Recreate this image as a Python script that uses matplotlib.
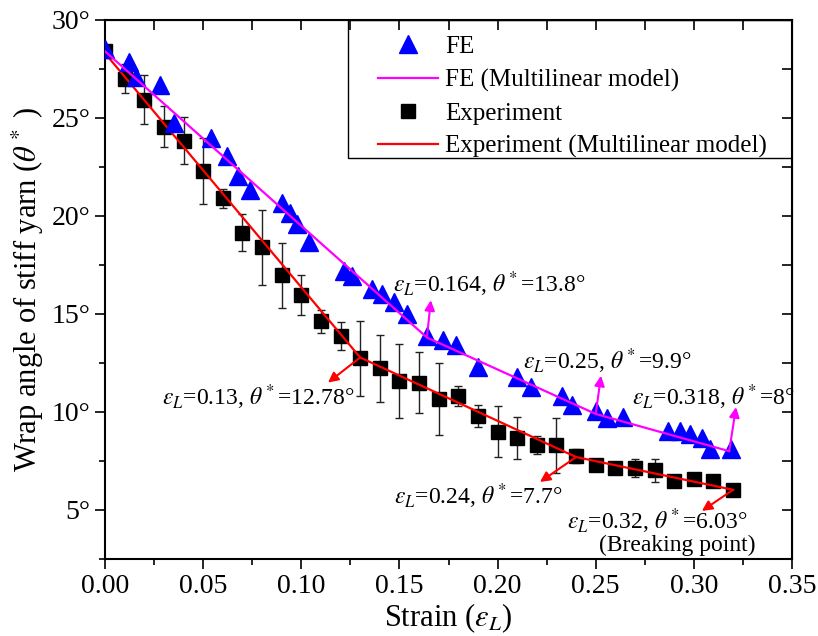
import numpy as np
import matplotlib.pyplot as plt
from matplotlib.patches import Rectangle
from matplotlib.ticker import MultipleLocator, FuncFormatter

plt.rcParams['font.family'] = 'Liberation Serif'
plt.rcParams['mathtext.fontset'] = 'stix'

# experiment (mean and error bar half-length)
exp_strain = [0.00, 0.01, 0.02, 0.03, 0.04, 0.05, 0.06, 0.07, 0.08, 0.09, 0.10,
              0.11, 0.12, 0.13, 0.14, 0.15, 0.16, 0.17, 0.18, 0.19, 0.20, 0.21,
              0.22, 0.23, 0.24, 0.25, 0.26, 0.27, 0.28, 0.29, 0.30, 0.31, 0.32]
exp_angle = [28.4, 27.0, 25.93, 24.55, 23.84, 22.3, 20.9, 19.15, 18.4, 16.97, 15.95,
             14.62, 13.86, 12.74, 12.23, 11.57, 11.5, 10.65, 10.8, 9.8, 9.0, 8.67,
             8.3, 8.3, 7.75, 7.29, 7.14, 7.14, 7.03, 6.48, 6.58, 6.48, 6.03]
exp_err = [0, 0.74, 1.25, 1.05, 1.2, 1.7, 0.5, 0.95, 1.9, 1.65, 1.02,
           0.57, 0.71, 1.9, 1.7, 1.9, 1.55, 1.85, 0.5, 0.58, 1.28, 1.05,
           0.46, 1.4, 0.35, 0.15, 0.3, 0.48, 0.58, 0, 0, 0, 0]

# FE results
fe_strain = [0.000, 0.012, 0.016, 0.028, 0.035, 0.054, 0.062, 0.068, 0.074, 0.090,
             0.094, 0.098, 0.104, 0.122, 0.126, 0.136, 0.141, 0.147, 0.154, 0.164,
             0.172, 0.179, 0.190, 0.210, 0.217, 0.233, 0.238, 0.250, 0.256, 0.264,
             0.287, 0.293, 0.298, 0.304, 0.308, 0.319]
fe_angle = [28.5, 27.86, 27.1, 26.7, 24.75, 23.99, 23.08, 22.03, 21.34, 20.68,
            20.17, 19.6, 18.65, 17.2, 16.95, 16.25, 16.0, 15.6, 14.98, 13.9,
            13.65, 13.4, 12.28, 11.77, 11.26, 10.8, 10.35, 10.04, 9.7, 9.74,
            9.05, 9.05, 8.9, 8.65, 8.1, 8.1]

# multilinear models (breakpoints)
fe_model_x = [0.0, 0.164, 0.25, 0.318]
fe_model_y = [28.4, 13.8, 9.9, 8.0]
exp_model_x = [0.0, 0.13, 0.24, 0.32]
exp_model_y = [28.3, 12.78, 7.7, 6.03]

fig = plt.figure(figsize=(8.18, 6.36), dpi=100)
ax = fig.add_axes([0.1284, 0.1211, 0.8398, 0.8475])

ax.errorbar(exp_strain, exp_angle, yerr=exp_err, fmt='none', ecolor='#222222',
            elinewidth=1, capsize=3, capthick=1, zorder=2)
ax.plot(exp_strain, exp_angle, 's', color='black', ms=10.5, zorder=3, label='Experiment')
ax.plot(exp_model_x, exp_model_y, '-', color='red', lw=1.6, zorder=4,
        label='Experiment (Multilinear model)')
ax.plot(fe_strain, fe_angle, '^', color='blue', ms=12.5, zorder=5, label='FE')
ax.plot(fe_model_x, fe_model_y, '-', color='magenta', lw=1.6, zorder=6,
        label='FE (Multilinear model)')

# breakpoint annotations
notes = [
    (0.164, 13.8, 0.166, 15.7, 0.1467, 16.5, r'$\varepsilon_L$=0.164, $\theta^*$=13.8°', 'magenta'),
    (0.25, 9.9, 0.2527, 11.85, 0.213, 12.6, r'$\varepsilon_L$=0.25, $\theta^*$=9.9°', 'magenta'),
    (0.318, 8.0, 0.3215, 10.25, 0.2685, 10.75, r'$\varepsilon_L$=0.318, $\theta^*$=8°', 'magenta'),
    (0.13, 12.78, 0.1136, 11.5, 0.029, 10.75, r'$\varepsilon_L$=0.13, $\theta^*$=12.78°', 'red'),
    (0.24, 7.7, 0.2216, 6.43, 0.1472, 5.7, r'$\varepsilon_L$=0.24, $\theta^*$=7.7°', 'red'),
    (0.32, 6.03, 0.3041, 4.95, 0.2354, 4.45, r'$\varepsilon_L$=0.32, $\theta^*$=6.03°', 'red'),
]
for px, py, hx, hy, tx, ty, txt, c in notes:
    ax.annotate('', xy=(hx, hy), xytext=(px, py),
                arrowprops=dict(arrowstyle='-|>', color=c, lw=1.5, mutation_scale=15,
                                shrinkA=0, shrinkB=0), zorder=7)
    ax.text(tx, ty, txt, fontsize=17, ha='left', va='center')
ax.text(0.2517, 3.2, '(Breaking point)', fontsize=17, ha='left', va='center')

ax.set_xlim(0, 0.35)
ax.set_ylim(2.5, 30)
ax.xaxis.set_major_locator(MultipleLocator(0.05))
ax.xaxis.set_minor_locator(MultipleLocator(0.025))
ax.yaxis.set_major_locator(MultipleLocator(5))
ax.yaxis.set_minor_locator(MultipleLocator(2.5))
ax.xaxis.set_major_formatter(FuncFormatter(lambda v, _: f'{v:.2f}'))
ax.yaxis.set_major_formatter(FuncFormatter(lambda v, _: f'{v:g}°'))
ax.tick_params(which='both', direction='out', top=False, right=False, width=1.2)
ax.tick_params(which='major', length=7, labelsize=20)
ax.tick_params(which='minor', length=4)
ax.yaxis.set_ticks([5, 10, 15, 20, 25, 30])

# mirrored inward ticks on top and right
for side in ['top', 'right']:
    sec = ax.secondary_xaxis('top') if side == 'top' else ax.secondary_yaxis('right')
    sec.tick_params(which='both', direction='in', width=1.2, labelsize=0)
    sec.tick_params(which='major', length=7)
    sec.tick_params(which='minor', length=7)
    axis = sec.xaxis if side == 'top' else sec.yaxis
    if side == 'top':
        axis.set_major_locator(MultipleLocator(0.05))
        axis.set_minor_locator(MultipleLocator(0.025))
    else:
        axis.set_major_locator(MultipleLocator(5))
        axis.set_minor_locator(MultipleLocator(2.5))
    axis.set_major_formatter(FuncFormatter(lambda v, _: ''))

for s in ax.spines.values():
    s.set_linewidth(1.5)

ax.set_xlabel(r'Strain ($\varepsilon_L$)', fontsize=22, labelpad=2)
ax.set_ylabel(r'Wrap angle of stiff yarn ($\theta^*$ )', fontsize=22, labelpad=4)

h, l = ax.get_legend_handles_labels()
order = [2, 3, 0, 1]
leg = ax.legend([h[i] for i in order], [l[i] for i in order], loc='upper right',
                bbox_to_anchor=(0.987, 1.0), frameon=False, fontsize=18,
                handlelength=2.4, handletextpad=0.3, labelspacing=0.42,
                borderpad=0.63, borderaxespad=0)
ax.add_patch(Rectangle((0.3537, 0.744), 0.6463, 0.256, transform=ax.transAxes,
                       fill=False, edgecolor='black', lw=1, zorder=8))

fig.savefig('out.png', dpi=100)
